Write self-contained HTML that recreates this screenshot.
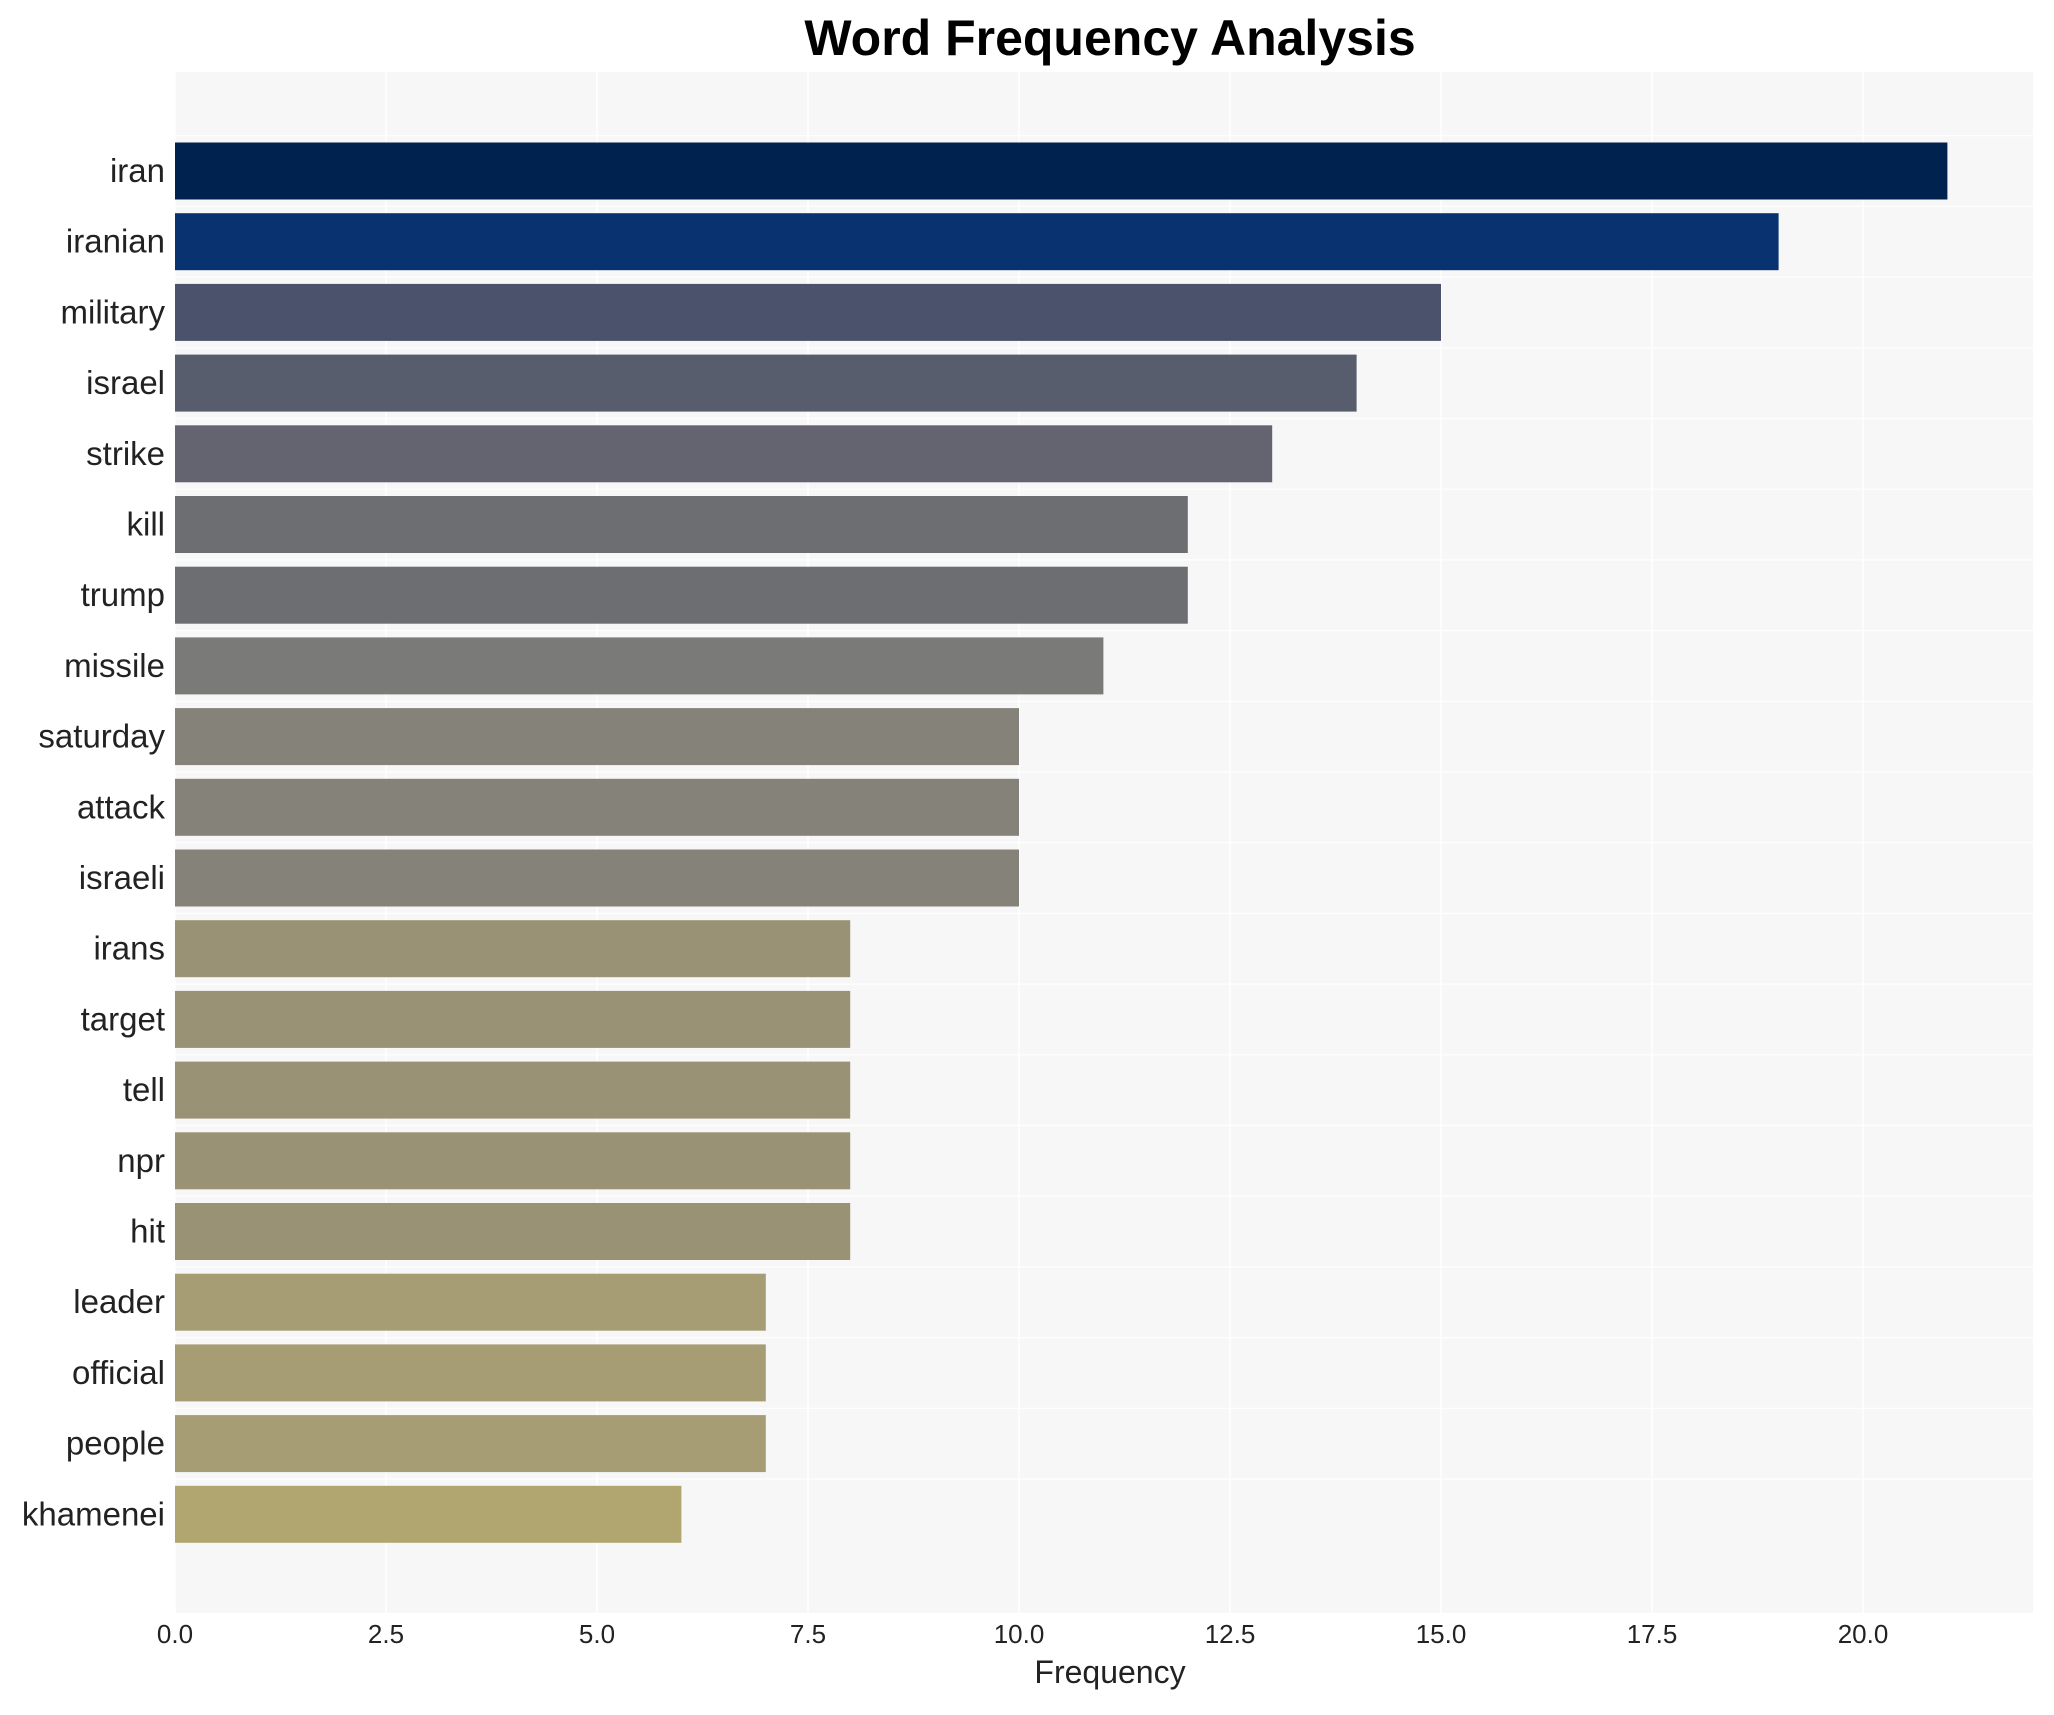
<!DOCTYPE html>
<html><head><meta charset="utf-8"><style>
body{margin:0;background:#fff;}
svg text{font-family:"Liberation Sans",Arial,sans-serif;}
</style></head><body>
<svg id="c" width="2054" height="1710" xmlns="http://www.w3.org/2000/svg">
<rect x="0" y="0" width="2054" height="1710" fill="#fff"/>
<rect x="175" y="72" width="1858" height="1541" fill="#f7f7f7"/>
<text x="1110" y="55" text-anchor="middle" font-size="50" font-weight="bold" fill="#000">Word Frequency Analysis</text>
<text x="1110" y="1683" text-anchor="middle" font-size="32" fill="#222">Frequency</text>
<g id="grid"></g><g id="bars"></g><g id="ticks"></g>
</svg>
<script>
const words=["iran","iranian","military","israel","strike","kill","trump","missile","saturday","attack","israeli","irans","target","tell","npr","hit","leader","official","people","khamenei"];
const values=[21,19,15,14,13,12,12,11,10,10,10,8,8,8,8,8,7,7,7,6];
const colors=["#00224e","#083370","#4a536b","#575d6d","#63646f","#6d6e72","#6d6e72","#7a7a78","#858279","#858279","#858279","#9a9275","#9a9275","#9a9275","#9a9275","#9a9275","#a69d75","#a69d75","#a69d75","#b1a570"];
const xTicks=[0,2.5,5,7.5,10,12.5,15,17.5,20];
const xTickLabels=["0.0","2.5","5.0","7.5","10.0","12.5","15.0","17.5","20.0"];
const NS="http://www.w3.org/2000/svg";
const x=v=>175+v*84.4;
const y=i=>171+i*70.7;
function mk(t,a,p){const e=document.createElementNS(NS,t);for(const k in a)e.setAttribute(k,a[k]);p.appendChild(e);return e;}
const grid=document.getElementById('grid'),bars=document.getElementById('bars'),ticks=document.getElementById('ticks');
xTicks.forEach((t,i)=>{
 const l=mk('line',{x1:x(t),x2:x(t),y1:72,y2:1613,stroke:'#fff','stroke-width':1.5},grid);
 
 
 const tx=mk('text',{x:x(t),y:1643,'text-anchor':'middle','font-size':26,fill:'#222'},ticks);
 tx.textContent=xTickLabels[i];
 
 
});
words.forEach((w,i)=>{
 const g=mk('line',{x1:175,x2:2033,y1:y(i)-35.3,y2:y(i)-35.3,stroke:'#fff','stroke-width':1.2},grid);
 
 
 const r=mk('rect',{x:x(0),y:y(i)-28.5,width:x(values[i])-x(0),height:57,fill:colors[i]},bars);
 
 
 const t=mk('text',{x:165,y:y(i)+11,'text-anchor':'end','font-size':33,fill:'#222'},ticks);
 t.textContent=w;
 
 
});
</script>
</body></html>
